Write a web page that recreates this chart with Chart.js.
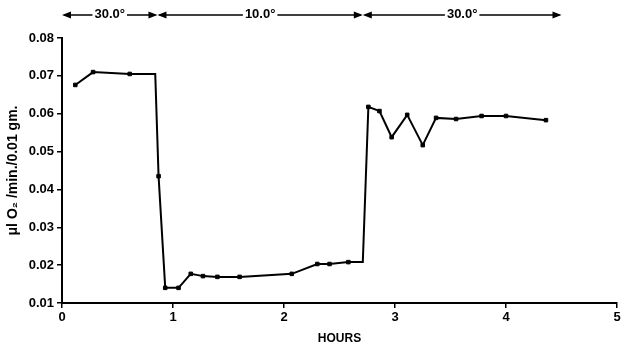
<!DOCTYPE html>
<html>
<head>
<meta charset="utf-8">
<script src="https://cdn.jsdelivr.net/npm/chart.js@4/dist/chart.umd.min.js"></script>
<style>
  html, body { margin: 0; padding: 0; background: #fff; }
  #wrap { width: 624px; height: 346px; }
</style>
</head>
<body>
<div id="wrap"><canvas id="rateChart" width="624" height="346"></canvas></div>
<script>
// Readings (hours, µl O2/min/0.01 gm) - corners of the vertical drops have no marker
const hours = [0.12, 0.28, 0.61, 0.84, 0.87, 0.93, 1.05, 1.16, 1.27, 1.40, 1.60, 2.07, 2.30, 2.41, 2.58, 2.71,
               2.76, 2.86, 2.97, 3.11, 3.25, 3.37, 3.55, 3.78, 4.00, 4.36];
const rate = [0.0676, 0.0710, 0.0705, 0.0705, 0.0435, 0.0140, 0.0140, 0.0177, 0.0171, 0.0169, 0.0169, 0.0177,
              0.0203, 0.0203, 0.0208, 0.0208, 0.0618, 0.0607, 0.0538, 0.0597, 0.0517, 0.0589, 0.0586, 0.0594,
              0.0594, 0.0583];
const marked = [1, 1, 1, 0, 1, 1, 1, 1, 1, 1, 1, 1, 1, 1, 1, 0, 1, 1, 1, 1, 1, 1, 1, 1, 1, 1];

// Temperature periods shown above the plot
const bandStart = [0, 0.86, 2.71];
const bandEnd = [0.86, 2.71, 4.5];
const bandLabel = ['30.0°', '10.0°', '30.0°'];

const xTicks = [0, 1, 2, 3, 4, 5];
const yTicks = [0.01, 0.02, 0.03, 0.04, 0.05, 0.06, 0.07, 0.08];

const FONT = '"Liberation Sans", Arial, sans-serif';

// Draws the temperature arrows along the top
const tempBands = {
    id: 'tempBands',
    afterDraw(chart) {
        const ctx = chart.ctx;
        const xs = chart.scales.x;
        const y = 15;
        ctx.save();
        ctx.strokeStyle = '#000';
        ctx.fillStyle = '#000';
        ctx.lineWidth = 1.5;
        ctx.font = 'bold 13px ' + FONT;
        ctx.textAlign = 'center';
        ctx.textBaseline = 'middle';
        bandLabel.forEach((label, i) => {
            const x1 = xs.getPixelForValue(bandStart[i]);
            const x2 = xs.getPixelForValue(bandEnd[i]);
            const mid = (x1 + x2) / 2;
            const half = ctx.measureText(label).width / 2 + 2;
            ctx.beginPath();
            ctx.moveTo(x1 + 2, y);
            ctx.lineTo(mid - half, y);
            ctx.moveTo(mid + half, y);
            ctx.lineTo(x2 - 2, y);
            ctx.stroke();
            // arrowheads
            ctx.beginPath();
            ctx.moveTo(x1, y);
            ctx.lineTo(x1 + 9, y - 3.5);
            ctx.lineTo(x1 + 9, y + 3.5);
            ctx.closePath();
            ctx.moveTo(x2, y);
            ctx.lineTo(x2 - 9, y - 3.5);
            ctx.lineTo(x2 - 9, y + 3.5);
            ctx.closePath();
            ctx.fill();
            ctx.fillText(label, mid, y - 1);
        });
        ctx.restore();
    }
};

new Chart(document.getElementById('rateChart'), {
    type: 'scatter',
    data: {
        datasets: [{
            data: hours.map((h, i) => ({ x: h, y: rate[i] })),
            showLine: true,
            borderColor: '#000',
            borderWidth: 2,
            backgroundColor: '#000',
            pointStyle: 'rect',
            pointRadius: marked.map(m => m ? 2.5 : 0),
            pointBorderWidth: 1,
            tension: 0
        }]
    },
    options: {
        responsive: false,
        animation: false,
        layout: { padding: { left: 0, right: 7, top: 38, bottom: 0 } },
        plugins: {
            legend: { display: false },
            tooltip: { enabled: false }
        },
        scales: {
            x: {
                type: 'linear',
                min: 0,
                max: 5,
                afterBuildTicks: s => { s.ticks = xTicks.map(v => ({ value: v })); },
                afterFit: s => { s.height = 43; },
                grid: { drawOnChartArea: false, color: '#000', tickLength: 5, lineWidth: 1.5 },
                border: { color: '#000', width: 2 },
                ticks: {
                    color: '#000',
                    padding: 2,
                    font: { family: FONT, size: 13, weight: 'bold' },
                    callback: v => String(v)
                },
                title: {
                    display: true,
                    text: 'HOURS',
                    color: '#000',
                    padding: { top: 1, bottom: 0 },
                    font: { family: FONT, size: 12, weight: 'bold' }
                }
            },
            y: {
                min: 0.01,
                max: 0.08,
                afterBuildTicks: s => { s.ticks = yTicks.map(v => ({ value: v })); },
                afterFit: s => { s.width = 62; },
                grid: { drawOnChartArea: false, color: '#000', tickLength: 5, lineWidth: 1.5 },
                border: { color: '#000', width: 2 },
                ticks: {
                    color: '#000',
                    padding: 3,
                    font: { family: FONT, size: 13, weight: 'bold' },
                    callback: v => v.toFixed(2)
                },
                title: {
                    display: true,
                    text: 'μl O₂ /min./0.01 gm.',
                    color: '#000',
                    padding: { top: 5, bottom: 0 },
                    font: { family: FONT, size: 14, weight: 'bold' }
                }
            }
        }
    },
    plugins: [tempBands]
});
</script>
</body>
</html>
